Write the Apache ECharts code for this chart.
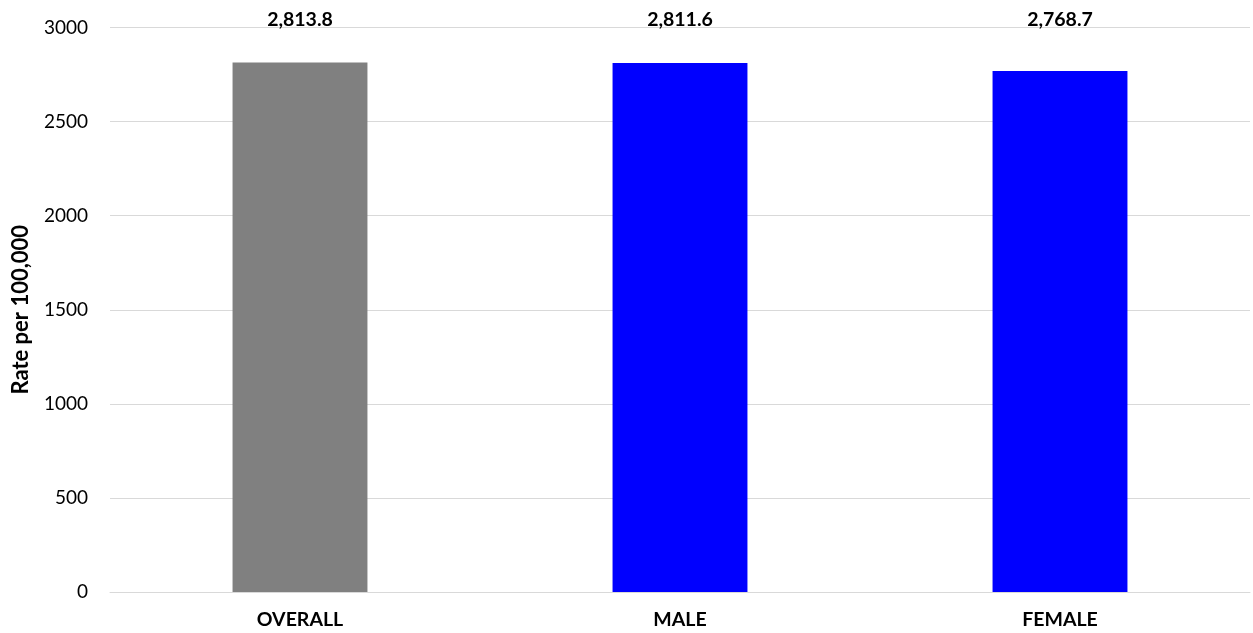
<!DOCTYPE html>
<html>
<head>
<meta charset="utf-8">
<script src="https://cdn.jsdelivr.net/npm/echarts@6/dist/echarts.min.js"></script>
<style>
  html, body { margin: 0; padding: 0; background: #fff; }
  #chart { width: 1253px; height: 633px; }
</style>
</head>
<body>
<div id="chart"></div>
<script>
// data
var categories = ['OVERALL', 'MALE', 'FEMALE'];
var rates = [2813.8, 2811.6, 2768.7];
var barColors = ['#808080', '#0000FF', '#0000FF'];
var yTicks = { min: 0, max: 3000, interval: 500 };

var fontFamily = 'Lato, "Open Sans", sans-serif';

function fmt(v) {
  return v.toLocaleString('en-US', { minimumFractionDigits: 1, maximumFractionDigits: 1 });
}

var chart = echarts.init(document.getElementById('chart'), null, { renderer: 'canvas' });

chart.setOption({
  animation: false,
  textStyle: { fontFamily: fontFamily },
  grid: { left: 110, right: 3, top: 27.5, bottom: 41 },
  xAxis: [
    {
      type: 'category',
      data: categories,
      axisLine: { lineStyle: { color: '#d9d9d9', width: 1 } },
      axisTick: { show: false },
      axisLabel: { color: '#000', fontSize: 19.5, fontWeight: 'bold', margin: 18, fontFamily: fontFamily }
    },
    {
      // value labels shown across the top of the plot
      type: 'category',
      position: 'top',
      data: rates.map(fmt),
      axisLine: { show: false },
      axisTick: { show: false },
      axisLabel: { color: '#000', fontSize: 19.5, fontWeight: 'bold', margin: -2, fontFamily: fontFamily }
    }
  ],
  yAxis: {
    type: 'value',
    min: yTicks.min,
    max: yTicks.max,
    interval: yTicks.interval,
    name: 'Rate per 100,000',
    nameLocation: 'middle',
    nameGap: 78,
    nameTextStyle: { color: '#000', fontSize: 22, fontWeight: 'bold', fontFamily: fontFamily },
    axisLine: { show: false },
    axisTick: { show: false },
    axisLabel: { color: '#000', fontSize: 19, margin: 22, fontFamily: fontFamily, formatter: function (v) { return String(v); } },
    splitLine: { lineStyle: { color: '#d9d9d9', width: 1 } }
  },
  series: [
    {
      type: 'bar',
      xAxisIndex: 0,
      barWidth: '35.5%',
      data: rates.map(function (v, i) {
        return { value: v, itemStyle: { color: barColors[i] } };
      })
    }
  ]
});
</script>
</body>
</html>
